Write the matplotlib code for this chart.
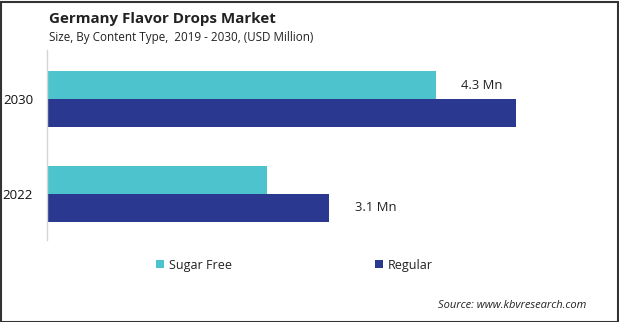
import matplotlib
matplotlib.use("Agg")
import matplotlib.pyplot as plt
from matplotlib.patches import Rectangle, Patch

plt.rcParams['font.family'] = ['Open Sans', 'DejaVu Sans']

categories = ["2022", "2030"]
series_names = ["Sugar Free", "Regular"]
sugar_free = [2.42, 4.27]
regular = [3.1, 5.15]
labels = {("Sugar Free", "2030"): "4.3 Mn", ("Regular", "2022"): "3.1 Mn"}

c_sf = "#4CC3CD"
c_reg = "#2B388F"

W, H = 619, 322
fig = plt.figure(figsize=(W / 100, H / 100), dpi=100)

# axes placement in pixels
ax_left, ax_right, ax_top, ax_bot = 47, 600, 50, 240
ax = fig.add_axes([ax_left / W, 1 - ax_bot / H, (ax_right - ax_left) / W, (ax_bot - ax_top) / H])

y = list(range(len(categories)))
bh = 0.29
ax.barh([v + bh / 2 for v in y], sugar_free, height=bh, color=c_sf, label="Sugar Free")
ax.barh([v - bh / 2 for v in y], regular, height=bh, color=c_reg, label="Regular")

ax.set_xlim(0, (ax_right - ax_left) / 91.0)
ax.set_ylim(-0.484, 1.516)
ax.set_yticks(y)
ax.set_yticklabels(categories, fontsize=9.5, color="#111111")
ax.tick_params(axis='y', length=0, pad=10)
ax.set_xticks([])
for s in ["top", "right", "bottom"]:
    ax.spines[s].set_visible(False)
ax.spines["left"].set_color("#d4d4d4")
ax.spines["left"].set_linewidth(1.0)

# value labels
for i, cat in enumerate(categories):
    if ("Sugar Free", cat) in labels:
        ax.annotate(labels[("Sugar Free", cat)], (sugar_free[i], i + bh / 2), xytext=(18.5, 0),
                    textcoords="offset points", va="center", ha="left", fontsize=9.4, color="#222222")
    if ("Regular", cat) in labels:
        ax.annotate(labels[("Regular", cat)], (regular[i], i - bh / 2), xytext=(19, 0),
                    textcoords="offset points", va="center", ha="left", fontsize=9.4, color="#222222")

# titles
fig.text(49 / W, 1 - 19 / H, "Germany Flavor Drops Market", fontsize=10.9, fontweight="bold",
         color="#222222", va="center", ha="left")
fig.text(49 / W, 1 - 38 / H, "Size, By Content Type,  2019 - 2030, (USD Million)", fontsize=8.4,
         color="#222222", va="center", ha="left")

# legend
handles = [Patch(facecolor=c_sf), Patch(facecolor=c_reg)]
leg = fig.legend(handles, series_names, loc="center left", bbox_to_anchor=(156 / W, 1 - 265 / H),
                 ncol=2, frameon=False, fontsize=9, handlelength=0.6, handleheight=0.6,
                 handletextpad=0.4, columnspacing=11.5, borderaxespad=0, borderpad=0)
for t in leg.get_texts():
    t.set_color("#222222")

fig.text(586 / W, 1 - 305 / H, "Source: www.kbvresearch.com", fontsize=8, style="italic",
         color="#222222", va="center", ha="right")

# frame
fig.patches.append(Rectangle((0.5 / W, 0.5 / H), 1 - 2 / W, 1 - 2 / H, transform=fig.transFigure,
                             fill=False, edgecolor="#333333", linewidth=1.5))

fig.savefig("out.png", dpi=100)
